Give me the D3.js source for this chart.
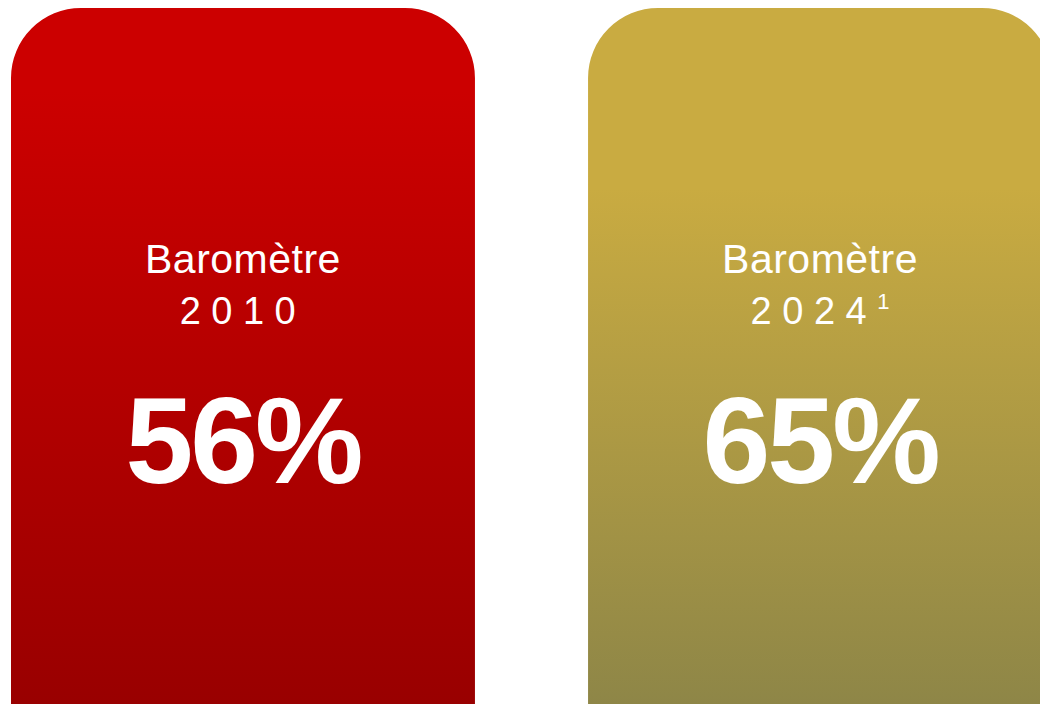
<!DOCTYPE html>
<html>
<head>
<meta charset="utf-8">
<script src="https://cdn.jsdelivr.net/npm/d3@7"></script>
<style>
  html, body { margin: 0; padding: 0; background: #fff; }
  svg { display: block; font-family: "Liberation Sans", Arial, sans-serif; }
</style>
</head>
<body>
<svg width="1040" height="704"></svg>
<script>
// Chart data
var titles = ["Baromètre", "Baromètre"];
var years = ["2010", "2024"];
var notes = ["", "1"];
var values = [56, 65];
var topColors = ["#cc0000", "#c9ab41"];
var bottomColors = ["#990000", "#8e8647"];
var flatUntil = [0.12, 0.26];

var svg = d3.select("svg"),
    width = +svg.attr("width"),
    height = +svg.attr("height");

var cards = years.map(function(y, i) {
  return {year: y, title: titles[i], note: notes[i], value: values[i],
          top: topColors[i], bottom: bottomColors[i], flat: flatUntil[i]};
});

// Horizontal placement of the cards
var x = d3.scaleBand()
    .domain(years)
    .range([11, 1052])
    .paddingInner(0.196);

var cardTop = 8,
    radius = 70;

var fmt = function(v) { return d3.format("d")(v) + "%"; };

// Gradients
var defs = svg.append("defs");
cards.forEach(function(d, i) {
  var g = defs.append("linearGradient")
      .attr("id", "grad" + i)
      .attr("gradientUnits", "userSpaceOnUse")
      .attr("x1", 0).attr("y1", cardTop)
      .attr("x2", 0).attr("y2", height);
  g.append("stop").attr("offset", 0).attr("stop-color", d.top);
  g.append("stop").attr("offset", d.flat).attr("stop-color", d.top);
  g.append("stop").attr("offset", 1).attr("stop-color", d.bottom);
});

function cardPath(x0, w) {
  var p = d3.path();
  var bottom = height + 20;
  p.moveTo(x0, bottom);
  p.lineTo(x0, cardTop + radius);
  p.arcTo(x0, cardTop, x0 + radius, cardTop, radius);
  p.lineTo(x0 + w - radius, cardTop);
  p.arcTo(x0 + w, cardTop, x0 + w, cardTop + radius, radius);
  p.lineTo(x0 + w, bottom);
  p.closePath();
  return p.toString();
}

var card = svg.selectAll(".card")
    .data(cards)
  .enter().append("g")
    .attr("class", "card")
    .attr("transform", function(d) { return "translate(" + x(d.year) + ",0)"; });

card.append("path")
    .attr("d", function(d) { return cardPath(0, x.bandwidth()); })
    .attr("fill", function(d, i) { return "url(#grad" + i + ")"; });

var cx = x.bandwidth() / 2;

card.append("text")
    .attr("x", cx)
    .attr("y", 273)
    .attr("text-anchor", "middle")
    .attr("fill", "#fff")
    .style("font-size", "41px")
    .style("letter-spacing", "0.5px")
    .text(function(d) { return d.title; });

var yr = card.append("text")
    .attr("x", cx)
    .attr("y", 324)
    .attr("text-anchor", "middle")
    .attr("fill", "#fff")
    .style("font-size", "38px")
    .style("letter-spacing", "10.5px");
yr.append("tspan").text(function(d) { return d.year; });
yr.append("tspan")
    .attr("dy", -15)
    .style("font-size", "22px")
    .style("letter-spacing", "0px")
    .text(function(d) { return d.note; });

card.append("text")
    .attr("x", cx)
    .attr("y", 483)
    .attr("text-anchor", "middle")
    .attr("fill", "#fff")
    .style("font-size", "122px")
    .style("font-weight", "bold")
    .style("letter-spacing", "-3px")
    .text(function(d) { return fmt(d.value); });
</script>
</body>
</html>
